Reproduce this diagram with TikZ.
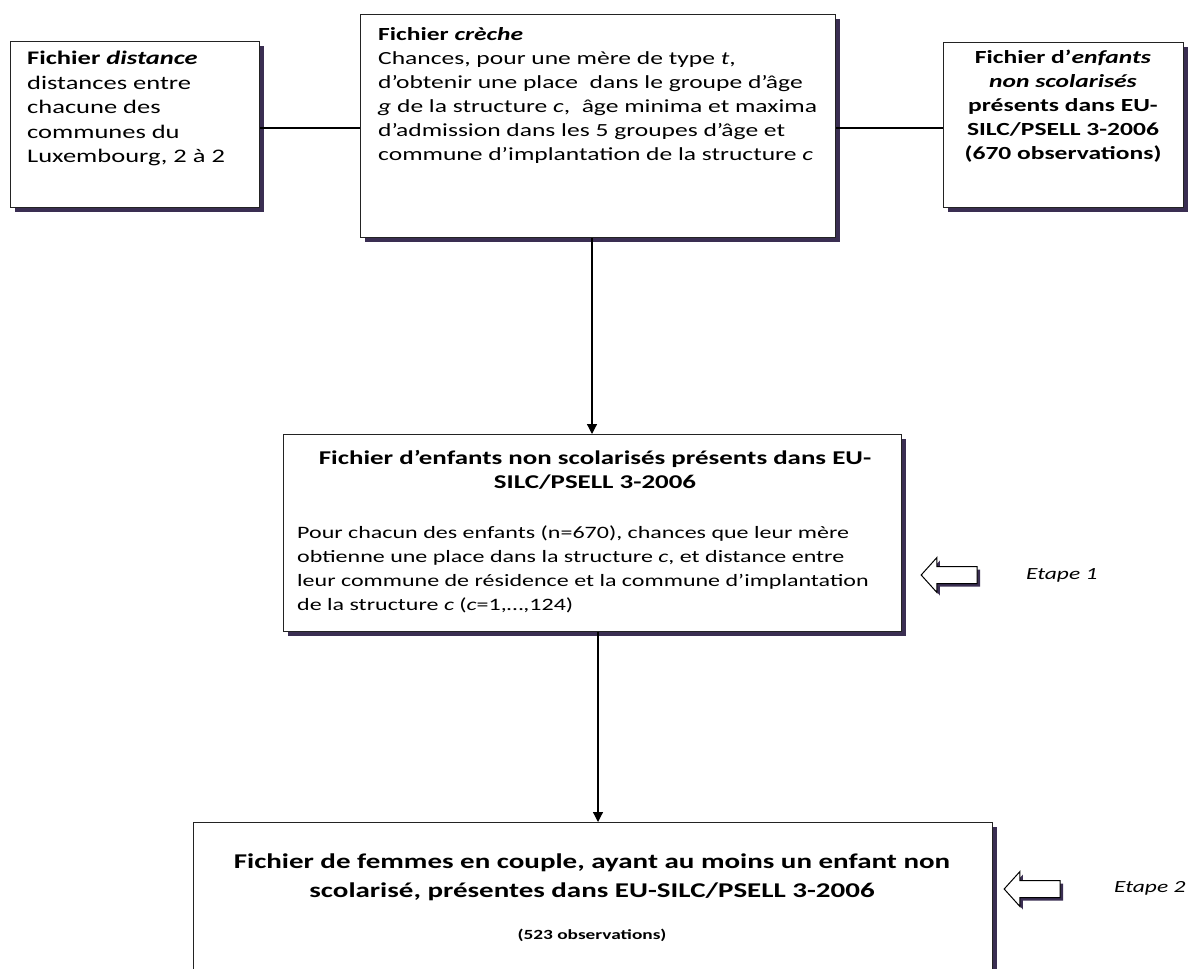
\documentclass[tikz,border=0pt]{standalone}
\usepackage{fontspec}
\setmainfont{Carlito}[FakeStretch=1.38]
\usetikzlibrary{shadows,shapes.arrows,arrows.meta}
\definecolor{shadowcol}{RGB}{58,46,82}
\definecolor{edgecol}{RGB}{35,35,35}
\begin{document}
\begin{tikzpicture}[x=1pt,y=-1pt,
  box/.style={draw=edgecol, line width=1.3pt, fill=white, anchor=north west, inner sep=0pt,
    drop shadow={shadow xshift=4pt, shadow yshift=-4pt, fill=shadowcol, opacity=1}},
  txt/.style={inner sep=0pt, font=\fontsize{18.5}{24}\selectfont},
  conn/.style={line width=1.2pt, draw=black},
  arr/.style={conn, -{Triangle[width=10pt,length=10pt]}},
  etape/.style={single arrow, shape border rotate=180, draw=black, line width=1pt, fill=white,
    minimum height=56pt, inner xsep=0pt, inner ysep=8pt, single arrow head extend=9pt,
    single arrow tip angle=96,
    drop shadow={shadow xshift=3pt, shadow yshift=-3pt, fill=shadowcol, opacity=1}},
  etxt/.style={inner sep=0pt, anchor=west, font=\fontsize{17}{22}\selectfont\itshape}
]
\useasboundingbox (0,0) rectangle (1189,969);
\clip (0,0) rectangle (1189,969);

% boxes
\node[box, minimum width=249pt, minimum height=166pt] (dist) at (10,41) {};
\node[box, minimum width=475pt, minimum height=223pt] (creche) at (360,14) {};
\node[box, minimum width=240pt, minimum height=165pt] (enf) at (943,42) {};
\node[box, minimum width=618pt, minimum height=197pt] (mid) at (283,434) {};
\node[box, minimum width=799pt, minimum height=200pt] (fem) at (193,822) {};

% texts
\node[txt, anchor=north west, align=left, font=\fontsize{19.2}{24.5}\selectfont] (distT) at (27,51)
  {\textbf{Fichier \textit{distance}}\\ distances entre\\ chacune des\\ communes du\\ Luxembourg, 2 à 2};
\node[txt, anchor=north west, align=left] (crecheT) at (378,27)
  {\textbf{Fichier \textit{crèche}}\\ Chances, pour une mère de type \textit{t},\\ d’obtenir une place\ \ dans le groupe d’âge\\ \textit{g} de la structure \textit{c},\ \ âge minima et maxima\\ d’admission dans les 5 groupes d’âge et\\ commune d’implantation de la structure \textit{c}};
\node[txt, anchor=north, align=center, font=\fontsize{18.5}{24}\selectfont\bfseries] (enfT) at (1063,50)
  {Fichier d’\textit{enfants}\\ \textit{non scolarisés}\\ présents dans EU-\\ SILC/PSELL 3-2006\\ (670 observations)};
\node[txt, anchor=north, align=center, font=\fontsize{19.5}{24}\selectfont\bfseries] (midT) at (595,450)
  {Fichier d’enfants non scolarisés présents dans EU-\\ SILC/PSELL 3-2006};
\node[txt, anchor=north west, align=left, font=\fontsize{17.4}{24}\selectfont] (midB) at (297,526)
  {Pour chacun des enfants (n=670), chances que leur mère\\ obtienne une place dans la structure \textit{c}, et distance entre\\ leur commune de résidence et la commune d’implantation\\ de la structure \textit{c} (\textit{c}=1,…,124)};
\node[txt, anchor=north, align=center, font=\fontsize{21}{29}\selectfont\bfseries] (femT) at (592,854)
  {Fichier de femmes en couple, ayant au moins un enfant non\\ scolarisé, présentes dans EU-SILC/PSELL 3-2006};
\node[txt, anchor=center, font=\fontsize{14}{18}\selectfont\bfseries] (femO) at (592,935)
  {(523 observations)};

% connectors
\draw[conn] (dist.east |- 0,128) -- (creche.west |- 0,128);
\draw[conn] (creche.east |- 0,128) -- (enf.west |- 0,128);
\draw[arr] (creche.south -| 592,0) -- (mid.north -| 592,0);
\draw[arr] (mid.south -| 598,0) -- (fem.north -| 598,0);

% etape arrows
\node[etape] (e1) at (953,575) {};
\node[etxt] (e1T) at (1026,575) {Etape 1};
\node[etape] (e2) at (1036,889) {};
\node[etxt] (e2T) at (1114,888) {Etape 2};
\end{tikzpicture}
\end{document}
